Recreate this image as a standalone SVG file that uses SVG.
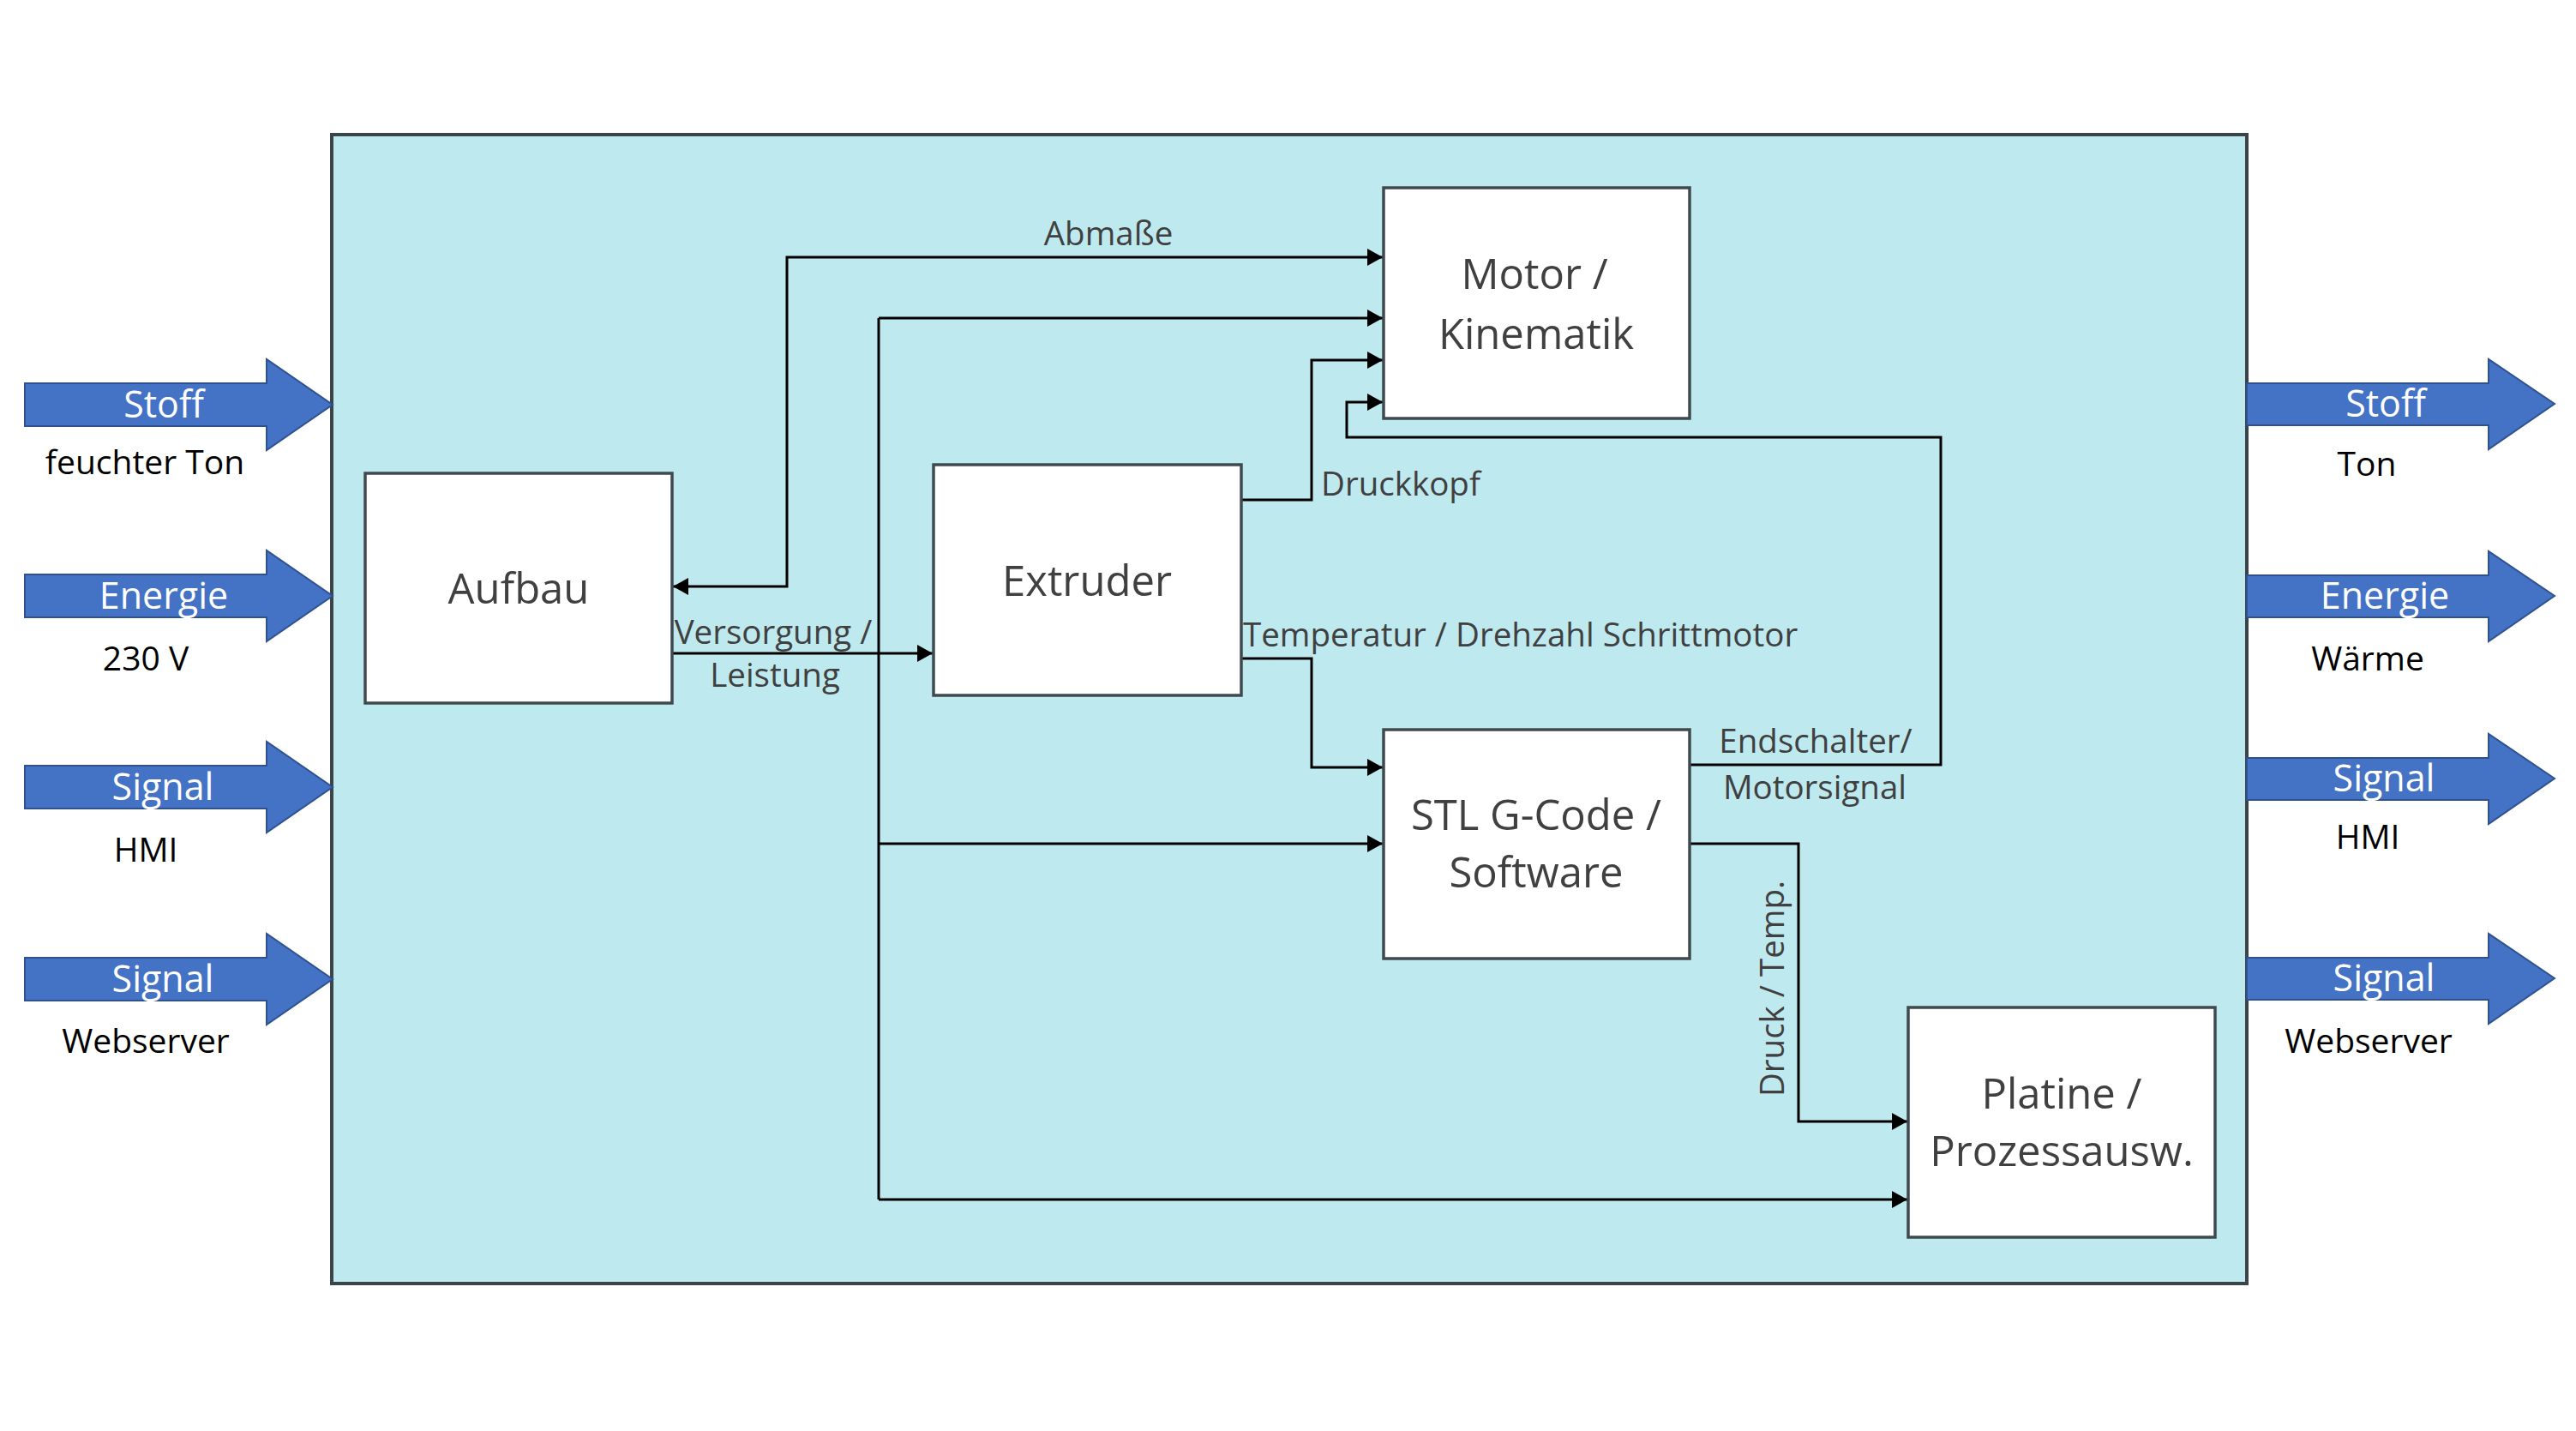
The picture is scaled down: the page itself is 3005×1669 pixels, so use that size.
<svg xmlns="http://www.w3.org/2000/svg" width="3005" height="1669" viewBox="0 0 3005 1669">
<defs>
<marker id="ah" markerUnits="userSpaceOnUse" markerWidth="20" markerHeight="22" refX="18" refY="10" orient="auto-start-reverse" viewBox="0 0 20 20">
<path d="M0,0 L18,10 L0,20 z" fill="#000"/>
</marker>
<style>
.box{fill:#fff;stroke:#3f4a4f;stroke-width:3.5}
.node{font-family:"Open Sans","Noto Sans",sans-serif;font-size:49px;fill:#404040;text-anchor:middle}
.lbl{font-family:"Open Sans","Noto Sans",sans-serif;font-size:38.5px;fill:#404040}
.alb{font-family:"Open Sans","Noto Sans",sans-serif;font-size:43px;fill:#fff;text-anchor:middle}
.blk{font-family:"Open Sans","Noto Sans",sans-serif;font-size:39px;fill:#000;text-anchor:middle}
.ba{fill:#4472c4;stroke:#2f528f;stroke-width:2}
.con{fill:none;stroke:#000;stroke-width:3}
.arr{marker-end:url(#ah)}
</style>
</defs>
<rect width="3005" height="1669" fill="#fff"/>
<g id="system">
<rect x="387" y="157" width="2234" height="1340" fill="#bee9ee" stroke="#3a4449" stroke-width="4"/>
</g>
<g id="inputs">
<polygon class="ba" points="29,447 311,447 311,419 388,472 311,525 311,497 29,497"/>
<text class="alb" x="191" y="487">Stoff</text>
<text class="blk" x="169" y="553">feuchter Ton</text>
<polygon class="ba" points="29,670 311,670 311,642 388,695 311,748 311,720 29,720"/>
<text class="alb" x="191" y="710">Energie</text>
<text class="blk" x="170" y="782">230 V</text>
<polygon class="ba" points="29,893 311,893 311,865 388,918 311,971 311,943 29,943"/>
<text class="alb" x="190" y="933">Signal</text>
<text class="blk" x="170" y="1005">HMI</text>
<polygon class="ba" points="29,1117 311,1117 311,1089 388,1142 311,1195 311,1167 29,1167"/>
<text class="alb" x="190" y="1157">Signal</text>
<text class="blk" x="170" y="1228">Webserver</text>
</g>
<g id="outputs">
<polygon class="ba" points="2621,447 2903,447 2903,419 2980,471 2903,524 2903,496 2621,496"/>
<text class="alb" x="2783" y="486">Stoff</text>
<text class="blk" x="2761" y="555">Ton</text>
<polygon class="ba" points="2621,671 2903,671 2903,643 2980,695 2903,748 2903,720 2621,720"/>
<text class="alb" x="2782" y="710">Energie</text>
<text class="blk" x="2762" y="782">Wärme</text>
<polygon class="ba" points="2621,884 2903,884 2903,856 2980,908 2903,961 2903,933 2621,933"/>
<text class="alb" x="2781" y="923">Signal</text>
<text class="blk" x="2762" y="990">HMI</text>
<polygon class="ba" points="2621,1117 2903,1117 2903,1089 2980,1141 2903,1194 2903,1166 2621,1166"/>
<text class="alb" x="2781" y="1156">Signal</text>
<text class="blk" x="2763" y="1228">Webserver</text>
</g>
<g id="connectors">
<path class="con" d="M785,684 H918 V300 H1613" marker-start="url(#ah)" marker-end="url(#ah)"/>
<path class="con arr" d="M785,762 H1088"/>
<path class="con" d="M1025,371 V1399"/>
<path class="con arr" d="M1025,371 H1613"/>
<path class="con arr" d="M1025,1399 H2225"/>
<path class="con arr" d="M1025,984 H1613"/>
<path class="con arr" d="M1448,583 H1530 V420 H1613"/>
<path class="con arr" d="M1448,768 H1530 V895 H1613"/>
<path class="con arr" d="M1971,892 H2264 V510 H1571 V469 H1613"/>
<path class="con arr" d="M1971,984 H2098 V1308 H2225"/>
<text class="lbl" x="1293" y="286" text-anchor="middle">Abmaße</text>
<text class="lbl" x="902" y="751" text-anchor="middle">Versorgung /</text>
<text class="lbl" x="904" y="801" text-anchor="middle">Leistung</text>
<text class="lbl" x="1541" y="578">Druckkopf</text>
<text class="lbl" x="1450" y="754">Temperatur / Drehzahl Schrittmotor</text>
<text class="lbl" x="2118" y="878" text-anchor="middle">Endschalter/</text>
<text class="lbl" x="2117" y="932" text-anchor="middle">Motorsignal</text>
<text class="lbl" text-anchor="middle" transform="translate(2081,1153) rotate(-90)">Druck / Temp.</text>
</g>
<g id="aufbau">
<rect class="box" x="426" y="552" width="358" height="268"/>
<text class="node" x="605" y="704">Aufbau</text>
</g>
<g id="extruder">
<rect class="box" x="1089" y="542" width="359" height="269"/>
<text class="node" x="1268" y="695">Extruder</text>
</g>
<g id="motor">
<rect class="box" x="1614" y="219" width="357" height="269"/>
<text class="node" x="1790" y="337">Motor /</text>
<text class="node" x="1792" y="407">Kinematik</text>
</g>
<g id="software">
<rect class="box" x="1614" y="851" width="357" height="267"/>
<text class="node" x="1792" y="968">STL G-Code /</text>
<text class="node" x="1792" y="1035">Software</text>
</g>
<g id="platine">
<rect class="box" x="2226" y="1175" width="358" height="268"/>
<text class="node" x="2405" y="1293">Platine /</text>
<text class="node" x="2405" y="1360">Prozessausw.</text>
</g>
</svg>
